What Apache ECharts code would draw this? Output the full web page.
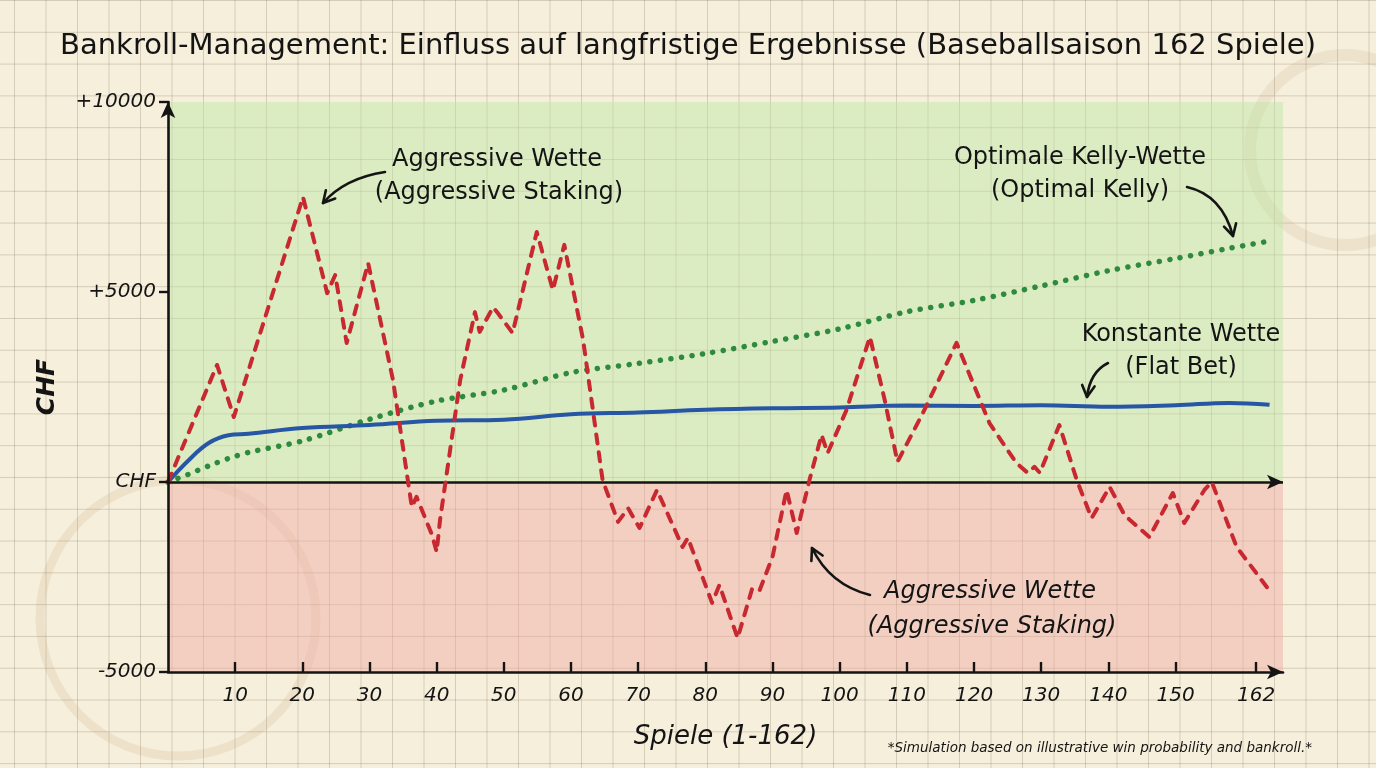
<!DOCTYPE html>
<html>
<head>
<meta charset="utf-8">
<script src="https://cdn.jsdelivr.net/npm/echarts@6.0.0/dist/echarts.min.js"></script>
<style>
html, body { margin: 0; padding: 0; }
body {
	background-color: #f6efdc;
	background-image:
		linear-gradient(rgba(120,105,80,0.26) 1px, transparent 1px),
		linear-gradient(90deg, rgba(120,105,80,0.26) 1px, transparent 1px);
	background-size: 31.5px 31.8px;
	background-position: 14px 0px;
}
#main { width: 1376px; height: 768px; }
</style>
</head>
<body>
<div id="main"></div>
<script>
// Aggressive Wette (gelesen aus der Vorlage)
var aggGames = [0, 7.3, 9.8, 20.1, 23.7, 24.9, 26.6, 29.8, 33.5, 36.3, 37, 39.3, 40, 40.5, 43.5, 45.7, 46.4, 48.4, 49, 51.3, 54.9, 57.3, 59, 61.8, 63.2, 64.7, 67, 68.5, 70.2, 72.8, 76.6, 77.4, 81, 82.1, 84.8, 87, 88.1, 90, 92.1, 93.6, 95.5, 97.3, 98.2, 101, 104.5, 106.7, 108.6, 112.4, 117.4, 122.3, 126.3, 128, 129, 129.8, 132.7, 135.3, 137.5, 140.2, 142.4, 146.1, 149.6, 151.3, 154.3, 155.4, 159.1, 163.7];
var aggValues = [0, 3080, 1710, 7500, 4970, 5450, 3660, 5760, 2680, -660, -390, -1390, -1840, -1000, 2680, 4470, 3950, 4600, 4470, 3920, 6580, 5050, 6240, 3740, 1970, 50, -1050, -690, -1210, -210, -1710, -1470, -3180, -2710, -4110, -2790, -2840, -1970, -210, -1340, 50, 1240, 760, 1890, 3820, 2160, 530, 1820, 3660, 1550, 500, 240, 400, 240, 1500, 50, -950, -130, -870, -1450, -290, -1080, -210, 0, -1710, -2790];

// Konstante Wette + Kelly
var lineGames = [0, 3, 6, 9, 12, 20, 30, 40, 50, 60, 70, 80, 90, 100, 110, 120, 130, 140, 150, 158, 164];
var flatValues = [0, 560, 1020, 1230, 1270, 1420, 1500, 1610, 1640, 1780, 1830, 1900, 1940, 1960, 2010, 2000, 2020, 1980, 2020, 2080, 2030];
var kellyValues = [0, 200, 420, 620, 780, 1080, 1650, 2130, 2420, 2880, 3120, 3380, 3700, 4030, 4480, 4780, 5160, 5560, 5880, 6150, 6340];

var xTickValues = [10, 20, 30, 40, 50, 60, 70, 80, 90, 100, 110, 120, 130, 140, 150, 162];

var FONT = '"DejaVu Sans", "Noto Sans", sans-serif';
var INK = '#141414';

function pairs(xs, ys){
	var out = [];
	for (var i = 0; i < xs.length; i++) {
		out.push([xs[i], ys[i]]);
	}
	return out;
}

function arrow(x1, y1, cx, cy, x2, y2){
	var a = Math.atan2(y2 - cy, x2 - cx);
	var L = 13, s = 0.5;
	return [
		{ type: 'bezierCurve', shape: { x1: x1, y1: y1, cpx1: cx, cpy1: cy, x2: x2, y2: y2 },
		  style: { stroke: INK, lineWidth: 2.6, fill: null, lineCap: 'round' }, z: 50 },
		{ type: 'polyline', shape: { points: [
			[x2 - L * Math.cos(a - s), y2 - L * Math.sin(a - s)],
			[x2, y2],
			[x2 - L * Math.cos(a + s), y2 - L * Math.sin(a + s)]
		  ] },
		  style: { stroke: INK, lineWidth: 2.6, fill: null, lineCap: 'round', lineJoin: 'round' }, z: 50 }
	];
}

function label(x, y, text, size, italic){
	return { type: 'text', x: x, y: y, z: 50,
		style: { text: text, fill: INK, align: 'center', verticalAlign: 'middle',
			font: (italic ? 'italic ' : '') + size + 'px ' + FONT } };
}

function drawChart(){
	var myChart = echarts.init(document.getElementById('main'));
	var graphics = [
		// Kaffeeflecken
		{ type: 'circle', shape: { cx: 178, cy: 618, r: 138 }, style: { fill: null, stroke: 'rgba(185,150,100,0.15)', lineWidth: 9 }, z: -1 },
		{ type: 'circle', shape: { cx: 1345, cy: 150, r: 95 }, style: { fill: null, stroke: 'rgba(185,150,100,0.14)', lineWidth: 12 }, z: -1 },
		label(497, 160, 'Aggressive Wette', 24, false),
		label(499, 193, '(Aggressive Staking)', 24, false),
		label(1080, 158, 'Optimale Kelly-Wette', 24, false),
		label(1080, 191, '(Optimal Kelly)', 24, false),
		label(1181, 335, 'Konstante Wette', 24, false),
		label(1181, 368, '(Flat Bet)', 24, false),
		label(990, 592, 'Aggressive Wette', 24, true),
		label(992, 627, '(Aggressive Staking)', 24, true),
		{ type: 'text', x: 1312, y: 748, z: 50,
		  style: { text: '*Simulation based on illustrative win probability and bankroll.*', fill: INK,
			align: 'right', verticalAlign: 'middle', font: 'italic 13.5px ' + FONT } }
	];
	graphics = graphics
		.concat(arrow(385, 172, 345, 178, 323, 203))
		.concat(arrow(1187, 187, 1222, 195, 1233, 236))
		.concat(arrow(1108, 363, 1090, 372, 1087, 397))
		.concat(arrow(870, 595, 830, 585, 812, 548));

	var option = {
		animation: false,
		title: {
			text: 'Bankroll-Management: Einfluss auf langfristige Ergebnisse (Baseballsaison 162 Spiele)',
			left: 'center',
			top: 27,
			textStyle: { fontFamily: FONT, fontSize: 29, fontWeight: 'normal', color: INK }
		},
		grid: { left: 168, right: 93, top: 102, bottom: 96 },
		xAxis: {
			type: 'value',
			min: 0,
			max: 166,
			z: 10,
			name: 'Spiele (1-162)',
			nameLocation: 'middle',
			nameGap: 52,
			nameTextStyle: { fontFamily: FONT, fontSize: 26, fontStyle: 'italic', color: INK },
			axisLine: { onZero: false, lineStyle: { color: INK, width: 2.6 }, symbol: ['none', 'arrow'], symbolSize: [11, 16] },
			axisTick: { show: true, inside: true, customValues: xTickValues, length: 10, lineStyle: { color: INK, width: 2.4 } },
			axisLabel: { customValues: xTickValues, margin: 14, fontFamily: FONT, fontSize: 20, fontStyle: 'italic', color: INK },
			splitLine: { show: false }
		},
		yAxis: {
			type: 'value',
			min: -5000,
			max: 10000,
			interval: 5000,
			z: 10,
			name: 'CHF',
			nameLocation: 'middle',
			nameRotate: 90,
			nameGap: 108,
			nameTextStyle: { fontFamily: FONT, fontSize: 25, fontStyle: 'italic', fontWeight: 'bold', color: INK },
			axisLine: { onZero: false, lineStyle: { color: INK, width: 2.6 }, symbol: ['none', 'arrow'], symbolSize: [11, 16] },
			axisTick: { length: 9, lineStyle: { color: INK, width: 2.4 } },
			axisLabel: {
				margin: 12, fontFamily: FONT, fontSize: 20, fontStyle: 'italic', color: INK,
				formatter: function(v){
					if (v === 0) return 'CHF';
					return v > 0 ? '+' + v : String(v);
				}
			},
			splitLine: { show: false }
		},
		graphic: graphics,
		series: [
			{
				name: 'Optimale Kelly-Wette',
				type: 'line',
				data: pairs(lineGames, kellyValues),
				showSymbol: false,
				smooth: 0.3,
				lineStyle: { color: '#2e8a3c', width: 5.5, type: [0.1, 10.5], cap: 'round' },
				z: 3,
				markArea: {
					silent: true,
					data: [
						[{ yAxis: 0, itemStyle: { color: 'rgba(190,230,165,0.48)' } }, { yAxis: 10000 }],
						[{ yAxis: -5000, itemStyle: { color: 'rgba(238,170,162,0.46)' } }, { yAxis: 0 }]
					]
				},
				markLine: {
					silent: true,
					symbol: ['none', 'arrow'],
					symbolSize: [11, 16],
					label: { show: false },
					lineStyle: { color: INK, width: 2.6, type: 'solid' },
					data: [{ yAxis: 0 }]
				}
			},
			{
				name: 'Konstante Wette',
				type: 'line',
				data: pairs(lineGames, flatValues),
				showSymbol: false,
				smooth: 0.4,
				lineStyle: { color: '#2756a5', width: 4 },
				z: 4
			},
			{
				name: 'Aggressive Wette',
				type: 'line',
				data: pairs(aggGames, aggValues),
				showSymbol: false,
				lineStyle: { color: '#c8282f', width: 4, type: [9, 9], cap: 'round', join: 'round' },
				z: 5
			}
		]
	};
	myChart.setOption(option);
}

drawChart();
</script>
</body>
</html>
